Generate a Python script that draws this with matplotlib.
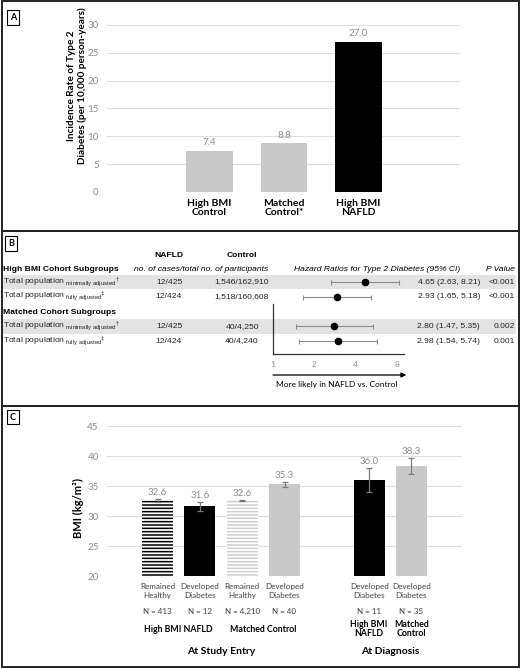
import numpy as np
import matplotlib
matplotlib.use("Agg")
import matplotlib.pyplot as plt
from matplotlib.patches import Rectangle
from matplotlib.transforms import blended_transform_factory
from matplotlib.ticker import NullLocator

# Panel A data
a_groups = ["High BMI\nControl", "Matched\nControl*", "High BMI\nNAFLD"]
a_rates = [7.4, 8.8, 27.0]

# Panel B data
b_labels = [r"Total population $_{\rm minimally\ adjusted}$$^{\dagger}$",
            r"Total population $_{\rm fully\ adjusted}$$^{\ddagger}$",
            r"Total population $_{\rm minimally\ adjusted}$$^{\dagger}$",
            r"Total population $_{\rm fully\ adjusted}$$^{\ddagger}$"]
b_nafld = ["12/425", "12/424", "12/425", "12/424"]
b_control = ["1,546/162,910", "1,518/160,608", "40/4,250", "40/4,240"]
b_hr = np.array([4.65, 2.93, 2.80, 2.98])
b_lo = np.array([2.63, 1.65, 1.47, 1.54])
b_hi = np.array([8.21, 5.18, 5.35, 5.74])
b_p = ["<0.001", "<0.001", "0.002", "0.001"]

# Panel C data
c_sub = ["Remained\nHealthy", "Developed\nDiabetes", "Remained\nHealthy",
         "Developed\nDiabetes", "Developed\nDiabetes", "Developed\nDiabetes"]
c_n = ["N = 413", "N = 12", "N = 4,210", "N = 40", "N = 11", "N = 35"]
c_bmi = [32.6, 31.6, 32.6, 35.3, 36.0, 38.3]
c_err = [0.25, 0.75, 0.05, 0.45, 2.05, 1.35]
c_groups = ["High BMI NAFLD", "Matched Control", "High BMI\nNAFLD", "Matched\nControl"]
c_times = ["At Study Entry", "At Diagnosis"]

plt.rcParams["font.family"] = ["Lato", "DejaVu Sans"]
plt.rcParams["mathtext.fontset"] = "custom"
plt.rcParams["mathtext.rm"] = "Liberation Sans"
plt.rcParams["mathtext.it"] = "Liberation Sans:italic"
plt.rcParams["mathtext.bf"] = "Liberation Sans:bold"
plt.rcParams["hatch.linewidth"] = 1.1

W, H = 520, 669
GREY = "#c9c9c9"
TXT_GREY = "#8c8c8c"
GRID = "#dedede"
ARIAL = "Liberation Sans"

fig = plt.figure(figsize=(W / 100, H / 100), dpi=100)


def rect(l, t, r, b):
    return [l / W, 1 - b / H, (r - l) / W, (b - t) / H]


# frames and panel letters
for top, bot in [(1, 231), (231, 406), (406, 667)]:
    fig.add_artist(Rectangle((1.5 / W, 1 - bot / H), (W - 3) / W, (bot - top) / H,
                             transform=fig.transFigure, fill=False, lw=1.4, ec="#222222"))
for letter, cx, cy in [("A", 13, 17.5), ("B", 11, 243.5), ("C", 13, 417)]:
    fig.text(cx / W, 1 - cy / H, letter, ha="center", va="center", fontsize=6.5,
             fontweight="bold",
             bbox=dict(boxstyle="square,pad=0.3", fc="white", ec="black", lw=0.8))

# ---------------- Panel A ----------------
axA = fig.add_axes(rect(107, 25, 460, 192))
xa = np.arange(len(a_rates))
axA.bar(xa, a_rates, width=0.63, color=[GREY, GREY, "black"], zorder=3)
for xi, v in zip(xa, a_rates):
    axA.annotate(f"{v:.1f}", (xi, v), xytext=(0, 2.5), textcoords="offset points",
                 ha="center", va="bottom", color=TXT_GREY, fontsize=7)
axA.set_xlim(-1.376, 3.362)
axA.set_ylim(0, 30)
axA.set_yticks(range(0, 31, 5))
axA.set_xticks(xa)
axA.set_xticklabels(a_groups, fontweight="bold", fontsize=7.5, linespacing=1.05)
axA.grid(axis="y", color=GRID, lw=0.8, zorder=0)
for s in axA.spines.values():
    s.set_visible(False)
axA.tick_params(length=0, pad=5)
axA.tick_params(axis="y", colors=TXT_GREY, labelsize=7, pad=6)
axA.tick_params(axis="x", colors="black")
axA.set_ylabel("Incidence Rate of Type 2\nDiabetes (per 10,000 person-years)",
               fontweight="bold", fontsize=7.2, linespacing=1.15)
axA.yaxis.set_label_coords(-0.057, 0.635)

# ---------------- Panel B ----------------
def row(py):
    return (py - 282) / 14.75


b_pos = np.array([0, 1, 3, 4])
axT = fig.add_axes(rect(0, 231, 520, 406))
axT.set_xlim(0, 520)
axT.set_ylim(row(406), row(231))
axT.axis("off")
for y in [b_pos[0], b_pos[2]]:
    axT.axhspan(y - 0.5, y + 0.5, xmin=0.005, xmax=0.993, color="#e3e3e3", lw=0, zorder=0)

fs_b = 6.1
axT.text(169, row(255), "NAFLD", ha="center", va="center", fontsize=fs_b,
         fontweight="bold", family=ARIAL)
axT.text(242, row(255), "Control", ha="center", va="center", fontsize=fs_b,
         fontweight="bold", family=ARIAL)
axT.text(3, row(269), "High BMI Cohort Subgroups", ha="left", va="center",
         fontsize=fs_b, fontweight="bold", family=ARIAL)
axT.text(3, row(312), "Matched Cohort Subgroups", ha="left", va="center",
         fontsize=fs_b, fontweight="bold", family=ARIAL)
axT.text(201, row(269), "no. of cases/total no. of participants", ha="center",
         va="center", fontsize=fs_b, style="italic", family=ARIAL)
axT.text(377, row(269), "Hazard Ratios for Type 2 Diabetes (95% CI)", ha="center",
         va="center", fontsize=fs_b, style="italic", family=ARIAL)
axT.text(515, row(269), "P Value", ha="right", va="center", fontsize=fs_b,
         style="italic", family=ARIAL)
for y, lab, n1, n2, hr, lo, hi, p in zip(b_pos, b_labels, b_nafld, b_control,
                                         b_hr, b_lo, b_hi, b_p):
    axT.text(3, y, lab, ha="left", va="center", fontsize=fs_b, family=ARIAL,
             color="#222222")
    axT.text(169, y, n1, ha="center", va="center", fontsize=fs_b, family=ARIAL,
             color="#222222")
    axT.text(242, y, n2, ha="center", va="center", fontsize=fs_b, family=ARIAL,
             color="#222222")
    axT.text(480, y, f"{hr:.2f} ({lo:.2f}, {hi:.2f})", ha="right", va="center",
             fontsize=fs_b, family=ARIAL, color="#222222")
    axT.text(515, y, p, ha="right", va="center", fontsize=fs_b, family=ARIAL,
             color="#222222")

axF = fig.add_axes(rect(273, 262, 404, 354))
axF.patch.set_visible(False)
axF.set_xscale("log", base=2)
axF.set_xlim(1, 9)
axF.set_ylim(row(354), row(262))
axF.errorbar(b_hr, b_pos, xerr=[b_hr - b_lo, b_hi - b_hr], fmt="o", color="black",
             ecolor="#8a8a8a", elinewidth=0.8, capsize=1.8, capthick=0.8,
             markersize=4.5, clip_on=False, zorder=3)
axF.set_xticks([1, 2, 4, 8])
axF.set_xticklabels(["1", "2", "4", "8"])
axF.xaxis.set_minor_locator(NullLocator())
axF.set_yticks([])
axF.tick_params(axis="x", length=0, pad=5, labelsize=6, colors=TXT_GREY)
axF.spines["top"].set_visible(False)
axF.spines["right"].set_visible(False)
axF.spines["left"].set_bounds(row(304), row(354))
for s in ["left", "bottom"]:
    axF.spines[s].set_color("#333333")
    axF.spines[s].set_linewidth(0.9)
axF.annotate("", xy=(9.35, row(375)), xytext=(1, row(375)),
             arrowprops=dict(arrowstyle="-|>", color="black", lw=0.9,
                             mutation_scale=7, shrinkA=0, shrinkB=0),
             annotation_clip=False)
axF.text(1.05, row(385), "More likely in NAFLD vs. Control", ha="left", va="center",
         fontsize=6, clip_on=False)

# ---------------- Panel C ----------------
axC = fig.add_axes(rect(107, 426, 462, 576))
c_pos = [0, 1, 2, 3, 5, 6]
faces = ["white", "black", "white", GREY, "black", GREY]
hatches = ["-----", None, "-----", None, None, None]
hcols = ["black", "black", "#cfcfcf", GREY, "black", GREY]
for p, v, fc, h, hc in zip(c_pos, c_bmi, faces, hatches, hcols):
    axC.bar(p, v - 20, bottom=20, width=0.733, color=fc, edgecolor=hc, hatch=h,
            lw=0, zorder=3)
axC.errorbar(c_pos, c_bmi, yerr=c_err, fmt="none", ecolor="#7a7a7a", elinewidth=0.9,
             capsize=2.5, capthick=0.9, zorder=4)
for p, v, e in zip(c_pos, c_bmi, c_err):
    axC.annotate(f"{v:.1f}", (p, v + e), xytext=(0, 1.2), textcoords="offset points",
                 ha="center", va="bottom", color=TXT_GREY, fontsize=7)
axC.set_xlim(-1.194, 7.194)
axC.set_ylim(20, 45)
axC.set_yticks(range(20, 46, 5))
axC.set_xticks([])
axC.grid(axis="y", color=GRID, lw=0.8, zorder=0)
for s in axC.spines.values():
    s.set_visible(False)
axC.tick_params(length=0)
axC.tick_params(axis="y", colors=TXT_GREY, labelsize=7, pad=6)
axC.set_ylabel("BMI (kg/m²)", fontweight="bold", fontsize=8)
axC.yaxis.set_label_coords(-0.065, 0.453)


def fy(py):
    return (576 - py) / 150


tr = blended_transform_factory(axC.transData, axC.transAxes)
for p, s, n in zip(c_pos, c_sub, c_n):
    axC.text(p, fy(591), s, transform=tr, ha="center", va="center", fontsize=5.8,
             color="#404040", linespacing=1.25)
    axC.text(p, fy(611), n, transform=tr, ha="center", va="center", fontsize=5.8,
             color="#404040")
for gx, g in zip([0.5, 2.5, 5, 6], c_groups):
    axC.text(gx, fy(629), g, transform=tr, ha="center", va="center", fontsize=6.3,
             fontweight="bold", linespacing=1.1)
for tx, t in zip([1.5, 5.5], c_times):
    axC.text(tx, fy(651), t, transform=tr, ha="center", va="center", fontsize=7.5,
             fontweight="bold")

fig.savefig("out.png", dpi=100)
